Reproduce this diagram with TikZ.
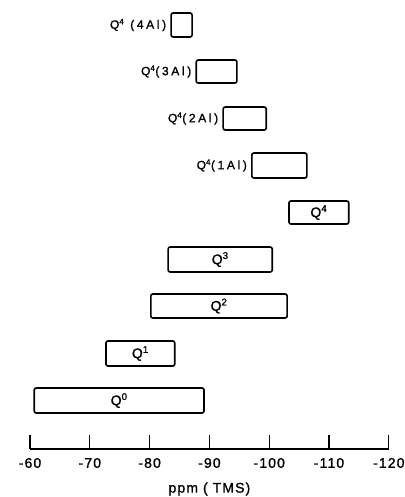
\documentclass[tikz,border=0pt]{standalone}
\usepackage{fontspec}
\setmainfont{Liberation Sans}[FakeBold=1.2, AutoFakeBold=1.2, LetterSpace=8]
\newfontfamily\spaced[LetterSpace=22, FakeBold=1.2]{Liberation Sans}
\usetikzlibrary{positioning,fit}
\tikzset{%
  band/.style={draw, line width=1.6pt, rounded corners=2pt, inner sep=0pt},
  site/.style={font=\fontsize{12}{12}\selectfont\spaced, inner sep=0pt},
  tick label/.style={font=\fontsize{14}{14}\selectfont\bfseries, inner sep=0pt}
}

\begin{document}
\begin{tikzpicture}[x=5.98pt, y=-1pt]
    % x: -ppm, y: px from top
    \useasboundingbox (54.98,0) rectangle (122.54,497);

    \node[band, fit={(83.6,13) (87.1,37)}] (q4a) {};
    \node[site, left=4pt of q4a] (l4a) {Q\textsuperscript{4} (4Al)};
    \node[band, fit={(87.8,60) (94.6,83)}] (q3a) {};
    \node[site, left=4pt of q3a] (l3a) {Q\textsuperscript{4}(3Al)};
    \node[band, fit={(92.3,107) (99.5,130)}] (q2a) {};
    \node[site, left=4pt of q2a] (l2a) {Q\textsuperscript{4}(2Al)};
    \node[band, fit={(97.1,153) (106.3,178)}] (q1a) {};
    \node[site, left=4pt of q1a] (l1a) {Q\textsuperscript{4}(1Al)};

    \node[band, fit={(103.3,201) (113.3,224)}] (q4) {};
    \node[tick label] (l4) at (q4) {Q\textsuperscript{4}};
    \node[band, fit={(83.1,247) (100.5,272)}] (q3) {};
    \node[tick label] (l3) at (q3) {Q\textsuperscript{3}};
    \node[band, fit={(80.2,294) (103.0,318)}] (q2) {};
    \node[tick label] (l2) at (q2) {Q\textsuperscript{2}};
    \node[band, fit={(72.7,341) (84.2,366)}] (q1) {};
    \node[tick label] (l1) at (q1) {Q\textsuperscript{1}};
    \node[band, fit={(60.7,388) (89.1,413)}] (q0) {};
    \node[tick label] (l0) at (q0) {Q\textsuperscript{0}};

    \coordinate (ax0) at (60,449);
    \coordinate (ax1) at (120,449);
    \draw[line width=1.3pt] (ax0) -- (ax1);
    \foreach \v in {60,70,...,120} {
      \draw[line width=1.3pt] (\v,449) -- (\v,435);
      \node[tick label] (t\v) at (\v,463) {-\v};
    }
    \node[tick label] (unit) at (90,489) {ppm ( TMS)};
\end{tikzpicture}
\end{document}
